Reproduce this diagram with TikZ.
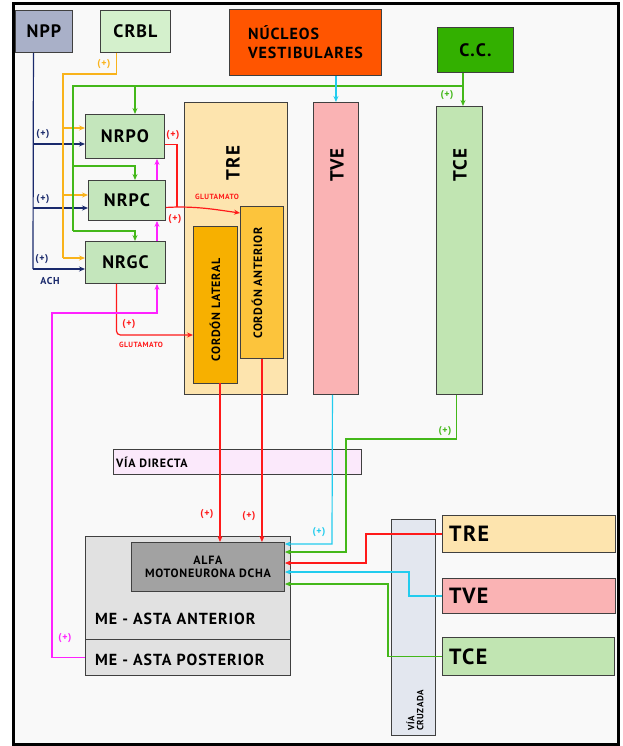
\documentclass[tikz,border=0pt]{standalone}
\usepackage{fontspec}
\setmainfont{PT Sans}[LetterSpace=6]
\usetikzlibrary{arrows.meta}
\definecolor{bgc}{HTML}{F9F9F9}
\definecolor{bordc}{HTML}{404040}
\definecolor{nppc}{HTML}{A9B0C8}
\definecolor{crblc}{HTML}{D4F0CC}
\definecolor{nvc}{HTML}{FF5500}
\definecolor{ccc}{HTML}{33B000}
\definecolor{nrc}{HTML}{C4E6BC}
\definecolor{trec}{HTML}{FDE4AE}
\definecolor{clc}{HTML}{F7B000}
\definecolor{cac}{HTML}{FCC43C}
\definecolor{tvec}{HTML}{FAB3B4}
\definecolor{tcec}{HTML}{C1E5B2}
\definecolor{vdc}{HTML}{FBE9FB}
\definecolor{mec}{HTML}{E1E1E1}
\definecolor{alfac}{HTML}{A2A2A2}
\definecolor{vcc}{HTML}{E3E7EF}
\definecolor{navyc}{HTML}{1A2A6C}
\definecolor{orc}{HTML}{F9B31B}
\definecolor{grc}{HTML}{44B81A}
\definecolor{redc}{HTML}{FF1A1A}
\definecolor{magc}{HTML}{FF22FF}
\definecolor{cyc}{HTML}{22CCEE}
\newcommand\myfA{\fontsize{18}{19}\selectfont\bfseries}
\newcommand\myfB{\fontsize{16}{19}\selectfont\bfseries}
\newcommand\myfR{\fontsize{22}{23}\selectfont\bfseries}
\newcommand\myfT{\fontsize{19}{20}\selectfont\bfseries}
\newcommand\myfM{\fontsize{16}{17}\selectfont\bfseries}
\newcommand\myfC{\fontsize{12}{13}\selectfont\bfseries}
\newcommand\myfD{\fontsize{10}{10}\selectfont\bfseries}
\newcommand\myfE{\fontsize{7.5}{8}\selectfont\bfseries}
\tikzset{
  box/.style={draw=bordc, line width=0.9pt, inner sep=0pt, anchor=north west},
  lbl/.style={font=\myfD, inner sep=0pt},
  glu/.style={font=\myfE, inner sep=0pt, text=redc},
  ar/.style={-{Stealth[length=6pt,width=5pt]}},
  navyl/.style={draw=navyc, line width=1.2pt},
  orl/.style={draw=orc, line width=1.2pt},
  grl/.style={draw=grc, line width=1.2pt},
  redl/.style={draw=redc, line width=1.2pt},
  magl/.style={draw=magc, line width=1.2pt},
  cyl/.style={draw=cyc, line width=1.2pt},
}
\begin{document}
\begin{tikzpicture}[x=1pt,y=-1pt]
\useasboundingbox (0,0) rectangle (622,746);
\draw[line width=3pt, fill=bgc] (13,4) rectangle (618,744);
% top boxes
\node[box,fill=nppc,minimum width=57pt,minimum height=42pt,font=\myfA] (npp) at (15,10) {NPP};
\node[box,fill=crblc,minimum width=70pt,minimum height=42pt,font=\myfA] (crbl) at (100,10) {CRBL};
\node[box,fill=nvc,minimum width=152pt,minimum height=66pt,font=\myfB,align=left] (nv) at (229,9) {NÚCLEOS\\VESTIBULARES};
\node[box,fill=ccc,minimum width=76pt,minimum height=45pt,font=\myfA] (cc) at (437,27) {C.C.};
% reticular nuclei
\node[box,fill=nrc,minimum width=79pt,minimum height=44pt,font=\myfA] (nrpo) at (85,114) {NRPO};
\node[box,fill=nrc,minimum width=77pt,minimum height=40pt,font=\myfA] (nrpc) at (88,180) {NRPC};
\node[box,fill=nrc,minimum width=80pt,minimum height=42pt,font=\myfA] (nrgc) at (85,241) {NRGC};
% tracts
\node[box,fill=trec,minimum width=103pt,minimum height=292pt] (tre) at (184,102) {};
\node[font=\myfT,rotate=90] at (233,163) {TRE};
\node[box,fill=clc,minimum width=44pt,minimum height=157pt] (cl) at (193,226) {};
\node[font=\myfC,rotate=90] at (215,310) {CORDÓN LATERAL};
\node[box,fill=cac,minimum width=43pt,minimum height=152pt] (ca) at (240,206) {};
\node[font=\myfC,rotate=90] at (257,283) {CORDÓN ANTERIOR};
\node[box,fill=tvec,minimum width=45pt,minimum height=292pt] (tve) at (313,102) {};
\node[font=\myfT,rotate=90] at (337,165) {TVE};
\node[box,fill=tcec,minimum width=46pt,minimum height=288pt] (tce) at (436,106) {};
\node[font=\myfT,rotate=90] at (460,165) {TCE};
% via directa
\node[box,fill=vdc,minimum width=248pt,minimum height=25pt] (vd) at (113,449) {};
\node[font=\myfC,anchor=west,inner sep=0pt] at (116,462) {VÍA DIRECTA};
% spinal cord
\node[box,fill=mec,minimum width=205pt,minimum height=103pt] (meA) at (85,536) {};
\node[box,fill=mec,minimum width=205pt,minimum height=36pt] (meP) at (85,639) {};
\node[font=\myfM,anchor=west,inner sep=0pt] at (95,619) {ME - ASTA ANTERIOR};
\node[font=\myfM,anchor=west,inner sep=0pt] at (95,660) {ME - ASTA POSTERIOR};
\node[box,fill=alfac,minimum width=153pt,minimum height=49pt,font=\myfC,align=center] (alfa) at (131,542) {ALFA\\MOTONEURONA DCHA};
% via cruzada
\node[box,fill=vcc,minimum width=44pt,minimum height=216pt] (vc) at (391,519) {};
\node[font=\fontsize{9}{9}\selectfont\bfseries,rotate=90,anchor=west,align=left,inner sep=0pt] at (415,731) {VÍA\\CRUZADA};
\node[box,fill=trec,minimum width=173pt,minimum height=37pt] (treR) at (442,515) {};
\node[box,fill=tvec,minimum width=173pt,minimum height=35pt] (tveR) at (442,578) {};
\node[box,fill=tcec,minimum width=172pt,minimum height=38pt] (tceR) at (442,637) {};
\node[font=\myfR,anchor=west,inner sep=0pt] at (449,534) {TRE};
\node[font=\myfR,anchor=west,inner sep=0pt] at (449,596) {TVE};
\node[font=\myfR,anchor=west,inner sep=0pt] at (449,657) {TCE};
% NPP connectors (navy)
\coordinate (nA) at (33,144);
\coordinate (nB) at (33,208);
\coordinate (nC) at (33,269);
\draw[navyl] ([xshift=-10.5pt]npp.south) -- (nC);
\draw[navyl,ar] (nA) -- (nA -| nrpo.west);
\draw[navyl,ar] (nB) -- (nB -| nrpc.west);
\draw[navyl,ar] (nC) -- (nC -| nrgc.west);
\node[lbl,text=navyc] at (43,134) {(+)};
\node[lbl,text=navyc] at (43,199) {(+)};
\node[lbl,text=navyc] at (42,259) {(+)};
\node[lbl,text=navyc] at (50,281) {ACH};
% CRBL connectors (orange)
\coordinate (oT) at (63,74);
\coordinate (oB) at (63,258);
\coordinate (o1) at (63,128);
\coordinate (o2) at (63,195);
\draw[orl] ([xshift=-19pt]crbl.south) |- (oT) -- (oB);
\draw[orl,ar] (oB) -- (oB -| nrgc.west);
\draw[orl,ar] (o1) -- (o1 -| nrpo.west);
\draw[orl,ar] (o2) -- (o2 -| nrpc.west);
\node[lbl,text=orc] at (104,64) {(+)};
% C.C. connectors (green)
\coordinate (g0) at (463,86);
\coordinate (gL) at (73,86);
\coordinate (gL2) at (73,166);
\coordinate (gL3) at (73,231);
\coordinate (gx1) at (135,86);
\draw[grl,ar] (g0 |- cc.south) -- (g0 |- tce.north);
\draw[grl] (g0) -- (gL) -- (gL3);
\draw[grl,ar] (gx1) -- (gx1 |- nrpo.north);
\draw[grl,ar] (gL2) -| (gx1 |- nrpc.north);
\draw[grl,ar] (gL3) -| (gx1 |- nrgc.north);
\node[lbl,text=grc] at (447,95) {(+)};
% red from reticular nuclei
\coordinate (r1) at (177,207);
\coordinate (r3) at (116,335);
\draw[redl] ([yshift=-8pt]nrpo.east) -| (r1);
\draw[redl,ar] ([yshift=-7pt]nrpc.east) -- (r1) to[out=0,in=172] ([yshift=-7pt]ca.north west);
\draw[redl,ar,rounded corners=4pt] ([xshift=-9pt]nrgc.south) |- (cl.west |- r3);
\node[lbl,text=redc] at (173,135) {(+)};
\node[lbl,text=redc] at (175,219) {(+)};
\node[glu] at (217,197) {GLUTAMATO};
\node[lbl,text=redc] at (129,324) {(+)};
\node[glu] at (141,345) {GLUTAMATO};
% magenta
\coordinate (m1) at (52,313);
\coordinate (mx) at (157,313);
\draw[magl,ar] (meP.west) -| (m1) -| (mx |- nrgc.south);
\draw[magl,ar] (mx |- nrgc.north) -- (mx |- nrpc.south);
\draw[magl,ar] (mx |- nrpc.north) -- (mx |- nrpo.south);
\node[lbl,text=magc] at (65,638) {(+)};
% cordones to alfa
\coordinate (cl1) at (220,383);
\coordinate (cl2) at (220,542);
\draw[redl,ar] (cl1) -- (cl2);
\draw[redl,ar] (ca.south) -- (ca.south |- alfa.north);
\node[lbl,text=redc] at (207,514) {(+)};
\node[lbl,text=redc] at (249,516) {(+)};
% vestibular (cyan)
\coordinate (c1) at (332,544);
\draw[cyl,ar] (tve.north |- nv.south) -- (tve.north);
\draw[cyl,ar] ([xshift=-3.5pt]tve.south) -- (c1) -- (c1 -| alfa.east);
\node[lbl,text=cyc] at (319,532) {(+)};
% TCE to alfa (green)
\coordinate (g5) at (346,439);
\coordinate (g6) at (346,552);
\draw[grl,ar] ([xshift=-3pt]tce.south) |- (g5) -- (g6) -- (g6 -| alfa.east);
\node[lbl,text=grc] at (445,431) {(+)};
% crossed pathways
\coordinate (x1) at (366,563);
\coordinate (x2) at (409,572);
\coordinate (x3) at (388,584);
\draw[redl,ar] (treR.west) -| (x1) -- (x1 -| alfa.east);
\draw[cyl,ar] (tveR.west) -| (x2) -- (x2 -| alfa.east);
\draw[grl,ar] (tceR.west) -| (x3) -- (x3 -| alfa.east);
\end{tikzpicture}
\end{document}
